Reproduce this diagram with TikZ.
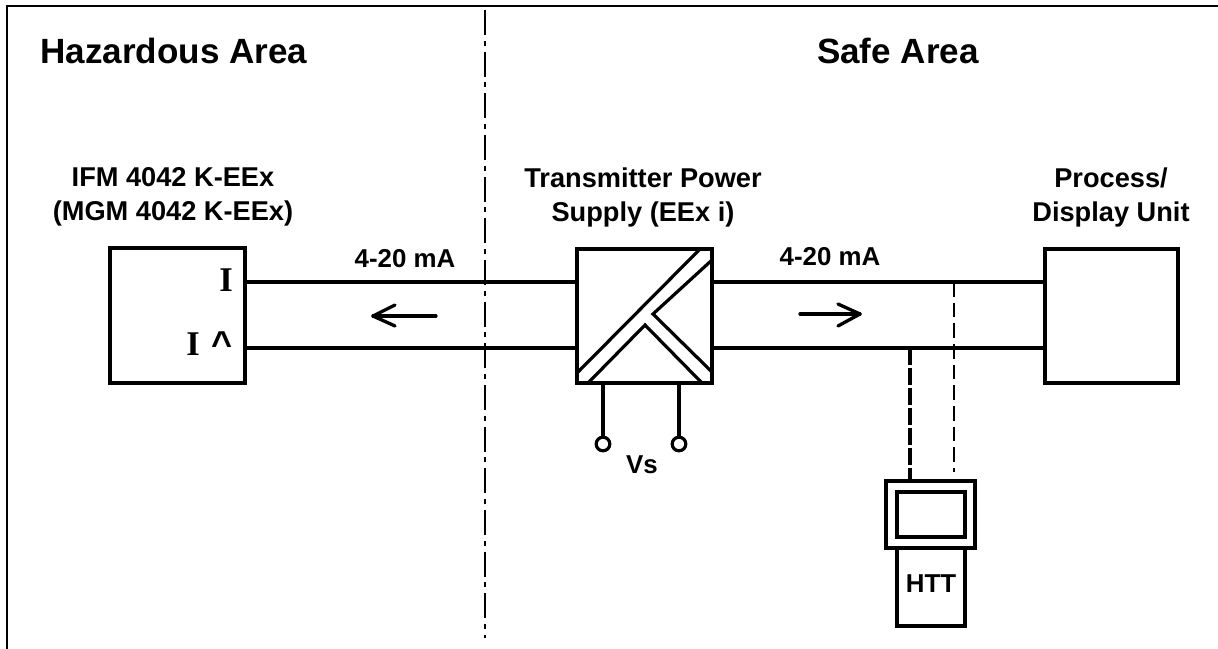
\documentclass[tikz,border=0pt]{standalone}
\usepackage{fontspec}
\setmainfont{Liberation Sans}
\newfontfamily\serifbold{Liberation Serif}[Scale=1]
\tikzset{
  wire/.style={line width=2.4pt,line join=miter},
  thinframe/.style={line width=1.4pt},
  boxshape/.style={draw,line width=2.4pt,minimum width=0pt,minimum height=0pt,inner sep=0pt,outer sep=0pt},
  lab/.style={font=\fontsize{20.4pt}{25.5pt}\selectfont\bfseries,align=center,inner sep=0pt},
  small/.style={font=\fontsize{19.4pt}{22pt}\selectfont\bfseries,inner sep=0pt},
  head/.style={font=\fontsize{26.3pt}{28pt}\selectfont\bfseries,inner sep=0pt},
  cur/.style={font=\serifbold\fontsize{26pt}{28pt}\selectfont\bfseries,inner sep=0pt},
  terminal/.style={circle,draw,line width=2.4pt,minimum size=10.2pt,inner sep=0pt,outer sep=0pt},
  flow/.style={line width=2.5pt,line cap=round,line join=round}
}
\begin{document}
\begin{tikzpicture}[x=0.75pt,y=-0.75pt]
\useasboundingbox (0,0) rectangle (1218,649);
\coordinate (fa) at (7,649);
\coordinate (fb) at (7,6);
\coordinate (fc) at (1218,6);
\draw[thinframe] (fa) -- (fb) -- (fc);
\coordinate (sep1) at (485,10);
\coordinate (sep2) at (485,638);
\draw[line width=1.5pt,dash pattern=on 18.75pt off 4.3pt on 3.8pt off 4.4pt] (sep1) -- (sep2);

\node[head,anchor=west] (haz) at (40,51) {Hazardous Area};
\node[head] (safe) at (898,51) {Safe Area};
\node[lab] (l1) at (173,197) {IFM 4042 K-EEx\\(MGM 4042 K-EEx)};
\node[lab] (l2) at (643,197) {Transmitter Power\\Supply (EEx i)};
\node[lab] (l3) at (1111,197) {Process/\\Display Unit};
\node[small] (c1) at (405,259) {4-20 mA};
\node[small] (c2) at (830,257) {4-20 mA};
\node[small] (vs) at (642,465) {Vs};

\coordinate (aNW) at (110,248);
\node[boxshape,anchor=north west,minimum width=101.25pt,minimum height=101.25pt] (lb) at (aNW) {};
\node[boxshape,anchor=north west,minimum width=101.25pt,minimum height=100.5pt] (cb) at (577,249) {};
\node[boxshape,anchor=north west,minimum width=99.75pt,minimum height=100.5pt] (rb) at (1045,249) {};

\coordinate (lt) at (245,282); \coordinate (lu) at (245,348);
\coordinate (clt) at (577,282); \coordinate (clu) at (577,348);
\coordinate (crt) at (712,282); \coordinate (cru) at (712,348);
\coordinate (rlt) at (1045,282); \coordinate (rlu) at (1045,348);
\draw[wire] (lt) -- (clt);
\draw[wire] (lu) -- (clu);
\draw[wire] (crt) -- (rlt);
\draw[wire] (cru) -- (rlu);

\draw[wire] (578,372) -- (700,249);
\draw[wire] (588,383) -- (645,325) -- (702,383);
\draw[wire] (712,260) -- (653,314) -- (712,372);

\node[cur] (ii) at (226,280) {I};
\node[cur] (ih) at (193,344) {I};
\node[font=\fontsize{27pt}{28pt}\selectfont\bfseries,inner sep=0pt,anchor=base] (hat) at (222,356) {\symbol{94}};

\coordinate (a1s) at (436,316); \coordinate (a1e) at (373,316);
\draw[flow] (a1s) -- (a1e);
\draw[flow] (395,305) -- (a1e) -- (395,326);
\coordinate (a2s) at (800,314); \coordinate (a2e) at (860,314);
\draw[flow] (a2s) -- (a2e);
\draw[flow] (838,304) -- (a2e) -- (838,326);

\node[terminal] (t1) at (603,444) {};
\node[terminal] (t2) at (679,444) {};
\coordinate (s1) at (603,383); \coordinate (s2) at (679,383);
\draw[wire] (s1) -- (t1);
\draw[wire] (s2) -- (t2);

\node[boxshape,anchor=north west,minimum width=66.75pt,minimum height=50.25pt] (ho) at (886,481) {};
\node[boxshape,anchor=north west,minimum width=51pt,minimum height=33.75pt] (hi) at (897,492) {};
\node[boxshape,anchor=north west,minimum width=51pt,minimum height=58.5pt] (hb) at (897,548) {};
\node[small] (htt) at (931,584) {HTT};

\coordinate (d1) at (910,348); \coordinate (d2) at (910,481);
\draw[line width=2.6pt,dash pattern=on 13pt off 2pt] (d1) -- (d2);
\coordinate (d3) at (954,282); \coordinate (d4) at (954,472);
\draw[line width=1.5pt,dash pattern=on 11pt off 4.5pt] (d3) -- (d4);
\end{tikzpicture}
\end{document}
